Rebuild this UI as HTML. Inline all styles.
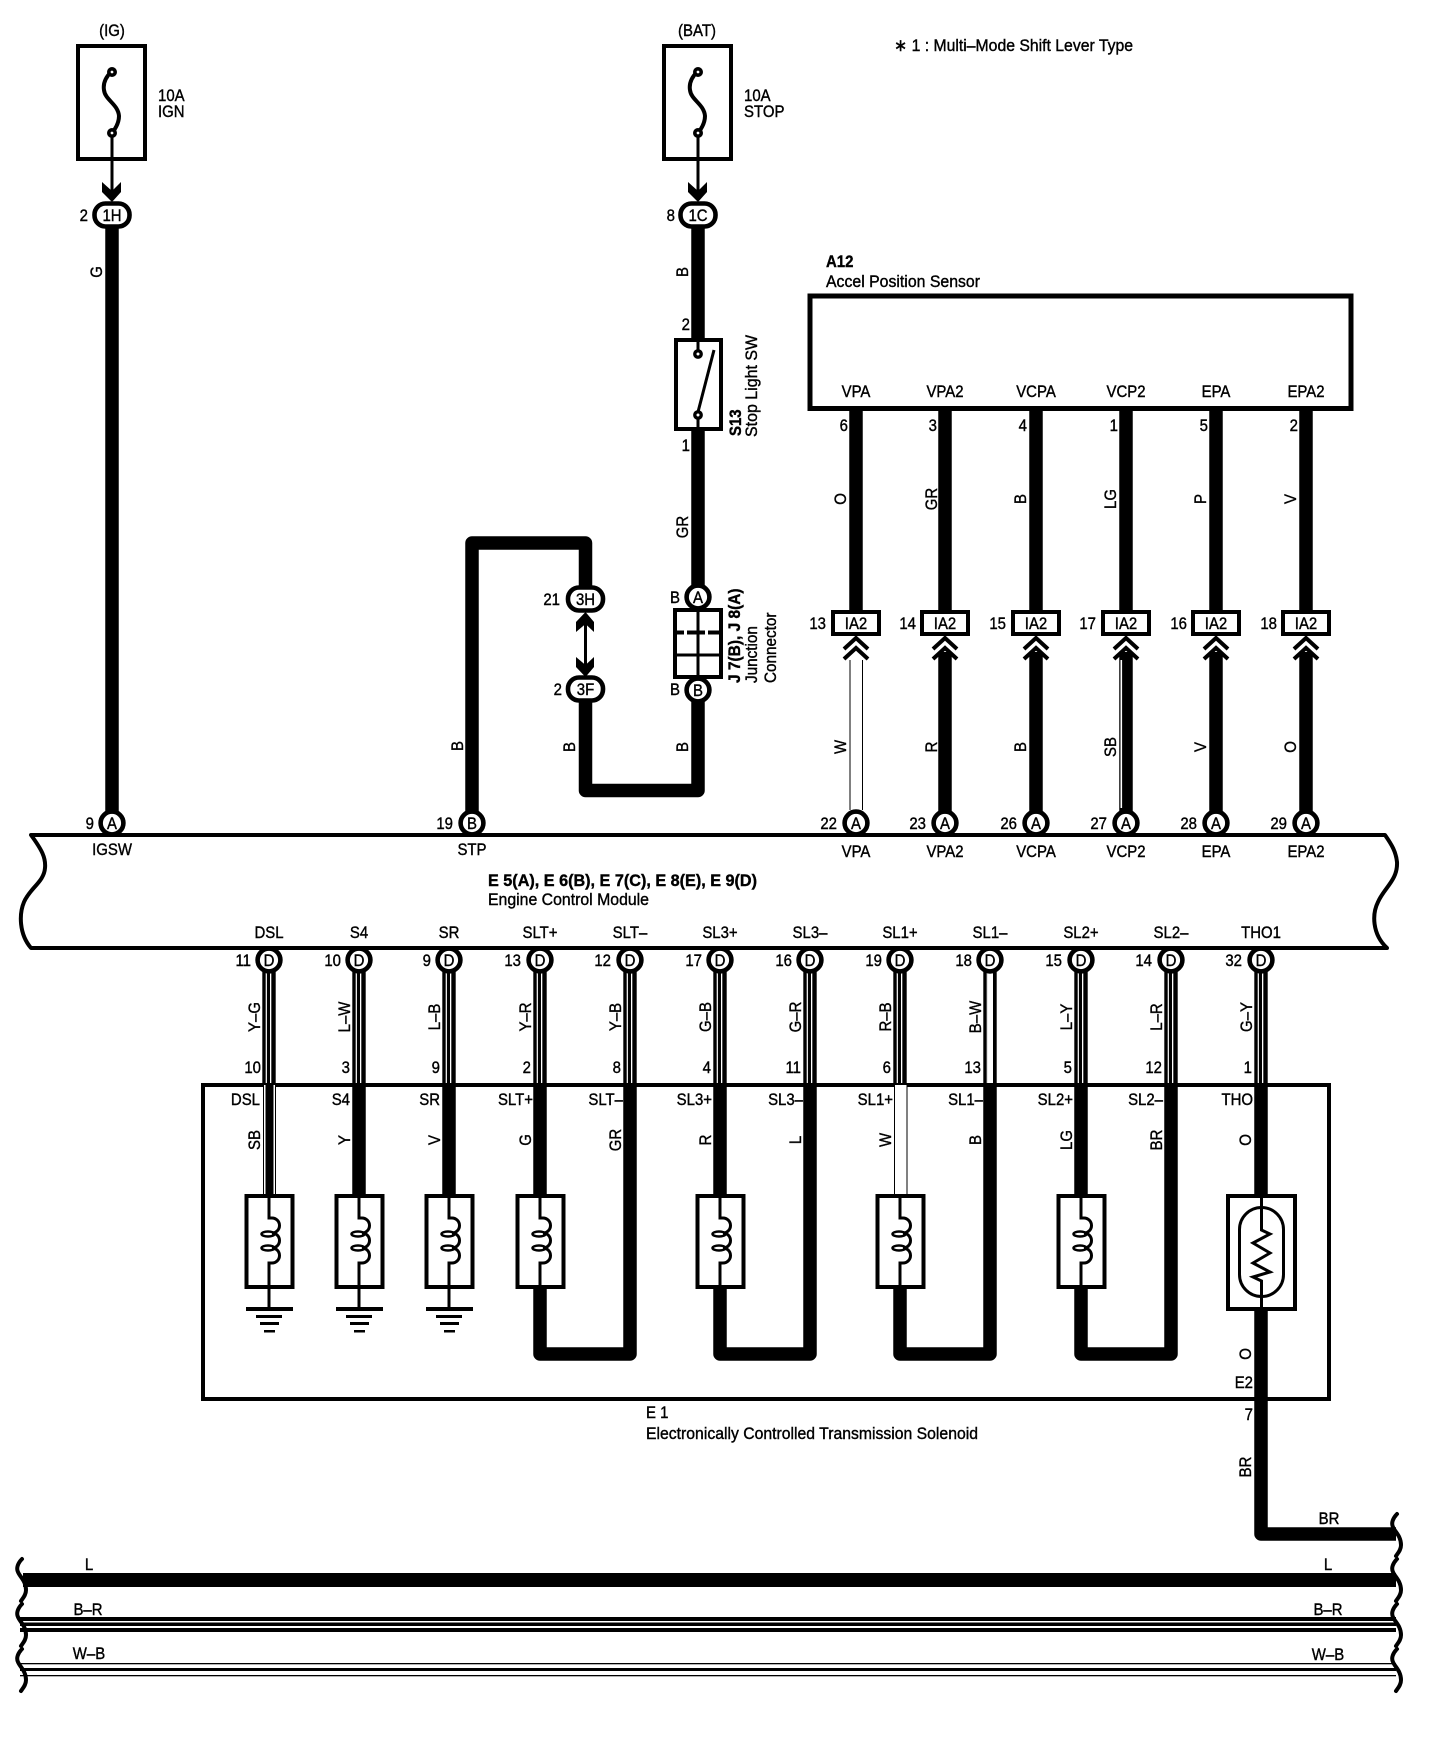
<!DOCTYPE html>
<html><head><meta charset="utf-8"><title>Wiring diagram</title>
<style>
html,body{margin:0;padding:0;background:#fff}
svg{display:block}
text{font-family:"Liberation Sans",sans-serif;font-size:17px;fill:#000;stroke:#000;stroke-width:.4}
.m{text-anchor:middle}.e{text-anchor:end}.b{font-weight:bold}
.w{fill:none;stroke:#000;stroke-width:13.5;stroke-linejoin:round}
</style></head><body>
<svg xmlns="http://www.w3.org/2000/svg" width="1440" height="1754" viewBox="0 0 1440 1754">
<defs>
<g id="c"><circle r="11.4" fill="#fff" stroke="#000" stroke-width="4.6"/></g>
<g id="o"><rect x="-17.5" y="-11.5" width="35" height="23" rx="11" fill="#fff" stroke="#000" stroke-width="4.6"/></g>
<g id="ia"><path d="M0,410V610" class="w"/><rect x="-23" y="612" width="46" height="22" fill="#fff" stroke="#000" stroke-width="4"/><path d="M-12,649L0,638L12,649M-12,659L0,648L12,659" fill="none" stroke="#000" stroke-width="4"/></g>
<g id="t"><rect x="-6.7" y="970" width="13.4" height="113"/><rect x="-3.3" y="972" width="1.2" height="111" fill="#fff"/><rect x="1" y="972" width="1.3" height="111" fill="#fff"/></g>
<g id="coil" fill="none" stroke="#000">
<rect x="-22.5" y="1196" width="46" height="91" fill="#fff" stroke-width="4"/>
<path d="M0,1194V1218H3A7.5,7.5 0 0 1 3,1233A7.5,7.5 0 0 1 3,1248A7.5,7.5 0 0 1 3,1263H0V1289" stroke-width="3"/>
<ellipse cx="-1" cy="1234" rx="6.5" ry="2.5" stroke-width="2.5"/><ellipse cx="-1" cy="1248" rx="6.5" ry="2.5" stroke-width="2.5"/>
</g>
<g id="gnd"><rect x="-1.5" y="1289" width="3" height="20"/><rect x="-23" y="1307" width="47" height="4"/><rect x="-13" y="1315" width="26" height="3"/><rect x="-9" y="1322" width="19" height="3"/><rect x="-5" y="1330" width="11" height="2.5"/></g>
<g id="fuse"><rect x="-34" y="46" width="67" height="113" fill="#fff" stroke="#000" stroke-width="4"/>
<path d="M-1,72C-7,78 -9,84 -8,90C-7,100 6,104 7,116C7,122 4,128 0,133" fill="none" stroke="#000" stroke-width="4"/>
<circle cy="72" r="3.2" fill="#fff" stroke="#000" stroke-width="3.6"/><circle cy="133" r="3.2" fill="#fff" stroke="#000" stroke-width="3.6"/>
<rect x="-1.5" y="137" width="3" height="55"/><path d="M-10,182L0,191L9,182V192L0,202L-10,192Z"/></g>
<path id="wv" d="M22,1C18,5 16,10 18,14C20,19 26,23 26,32C26,37 23,40 21,43" fill="none" stroke="#000" stroke-width="4" stroke-linecap="round"/>
</defs>

<!-- fuses -->
<use href="#fuse" x="112"/><use href="#fuse" x="698"/>
<text class="m" transform="translate(112,36)scale(.88,1)">(IG)</text>
<text class="m" transform="translate(697,36)scale(.88,1)">(BAT)</text>
<text transform="translate(158,101)scale(.88,1)">10A</text>
<text transform="translate(158,117)scale(.88,1)">IGN</text>
<text transform="translate(744,101)scale(.88,1)">10A</text>
<text transform="translate(744,117)scale(.88,1)">STOP</text>
<text x="894" y="51" textLength="239" lengthAdjust="spacingAndGlyphs" font-size="16">∗ 1 : Multi–Mode Shift Lever Type</text>

<!-- main wires -->
<path class="w" d="M112,225V812"/>
<path class="w" d="M698,225V338M698,431V597"/>
<path class="w" d="M472,812V543H585.5V590"/>
<path class="w" d="M585.5,700V790.5H698V700"/>

<use href="#o" x="112" y="215"/><text class="m" transform="translate(112,221)scale(.88,1)">1H</text>
<text class="e" transform="translate(88,221)scale(.88,1)">2</text>
<use href="#o" x="698" y="215"/><text class="m" transform="translate(698,221)scale(.88,1)">1C</text>
<text class="e" transform="translate(675,221)scale(.88,1)">8</text>
<text class="m" transform="translate(102,272)rotate(-90)scale(.88,1)">G</text>
<text class="m" transform="translate(688,272)rotate(-90)scale(.88,1)">B</text>
<text class="e" transform="translate(690,330)scale(.88,1)">2</text>
<text class="e" transform="translate(690,451)scale(.88,1)">1</text>
<text class="m" transform="translate(688,527)rotate(-90)scale(.88,1)">GR</text>

<!-- stop light switch -->
<rect x="676" y="340" width="45" height="89" fill="#fff" stroke="#000" stroke-width="4"/>
<path d="M698,338V350M698,419V431M698,412L714,350" fill="none" stroke="#000" stroke-width="3"/>
<circle cx="698" cy="354" r="3.2" fill="#fff" stroke="#000" stroke-width="3.4"/><circle cx="698" cy="415" r="3.2" fill="#fff" stroke="#000" stroke-width="3.4"/>
<text class="b" transform="translate(741,436)rotate(-90)scale(.88,1)">S13</text>
<text transform="translate(757,437)rotate(-90)scale(.94,1)">Stop Light SW</text>

<!-- junction -->
<rect x="675" y="610" width="46" height="67" fill="#fff" stroke="#000" stroke-width="4"/>
<path d="M698,610V677M675,655H721" fill="none" stroke="#000" stroke-width="3"/>
<path d="M675,632.5H721" fill="none" stroke="#000" stroke-width="4" stroke-dasharray="9 3 18 3 14"/>
<use href="#c" x="698" y="597"/><text class="m" transform="translate(698,603)scale(.88,1)">A</text>
<use href="#c" x="698" y="690"/><text class="m" transform="translate(698,696)scale(.88,1)">B</text>
<text class="e" transform="translate(680,603)scale(.88,1)">B</text>
<text class="e" transform="translate(680,695)scale(.88,1)">B</text>
<text class="b" transform="translate(740,683)rotate(-90)scale(.91,1)">J 7(B), J 8(A)</text>
<text transform="translate(757,683)rotate(-90)scale(.9,1)">Junction</text>
<text transform="translate(776,683)rotate(-90)scale(.9,1)">Connector</text>

<!-- 3H 3F -->
<rect x="584" y="620" width="3" height="48"/>
<path d="M585.5,612L594,622V632L585.5,624L576,632V622Z"/>
<path d="M585.5,677L594,667V657L585.5,665L576,657V667Z"/>
<use href="#o" x="585.5" y="599"/><text class="m" transform="translate(585.5,605)scale(.88,1)">3H</text>
<use href="#o" x="585.5" y="689"/><text class="m" transform="translate(585.5,695)scale(.88,1)">3F</text>
<text class="e" transform="translate(560,605)scale(.88,1)">21</text>
<text class="e" transform="translate(562,695)scale(.88,1)">2</text>
<text class="m" transform="translate(463,746)rotate(-90)scale(.88,1)">B</text>
<text class="m" transform="translate(575,747)rotate(-90)scale(.88,1)">B</text>
<text class="m" transform="translate(688,747)rotate(-90)scale(.88,1)">B</text>

<!-- A12 -->
<text class="b" transform="translate(826,267)scale(.88,1)">A12</text>
<text x="826" y="287" textLength="154" lengthAdjust="spacingAndGlyphs">Accel Position Sensor</text>
<rect x="810" y="296" width="541" height="112.5" fill="#fff" stroke="#000" stroke-width="5"/>
<text class="m" transform="translate(856,397)scale(.88,1)">VPA</text>
<text class="m" transform="translate(945,397)scale(.88,1)">VPA2</text>
<text class="m" transform="translate(1036,397)scale(.88,1)">VCPA</text>
<text class="m" transform="translate(1126,397)scale(.88,1)">VCP2</text>
<text class="m" transform="translate(1216,397)scale(.88,1)">EPA</text>
<text class="m" transform="translate(1306,397)scale(.88,1)">EPA2</text>

<use href="#ia" x="856"/><use href="#ia" x="945"/><use href="#ia" x="1036"/><use href="#ia" x="1126"/><use href="#ia" x="1216"/><use href="#ia" x="1306"/>
<!-- lower IA2 wires -->
<rect x="849.5" y="660" width="13.5" height="150"/><rect x="850.5" y="660" width="11.5" height="150" fill="#fff"/>
<path class="w" d="M945,652V812M1036,652V812M1126,652V812M1216,652V812M1306,652V812"/>
<rect x="1120.5" y="660" width="1.6" height="148" fill="#fff"/>

<text class="e" transform="translate(848,431)scale(.88,1)">6</text>
<text class="e" transform="translate(937,431)scale(.88,1)">3</text>
<text class="e" transform="translate(1027,431)scale(.88,1)">4</text>
<text class="e" transform="translate(1118,431)scale(.88,1)">1</text>
<text class="e" transform="translate(1208,431)scale(.88,1)">5</text>
<text class="e" transform="translate(1298,431)scale(.88,1)">2</text>
<text class="m" transform="translate(846,499)rotate(-90)scale(.88,1)">O</text>
<text class="m" transform="translate(937,499)rotate(-90)scale(.88,1)">GR</text>
<text class="m" transform="translate(1026,499)rotate(-90)scale(.88,1)">B</text>
<text class="m" transform="translate(1116,499)rotate(-90)scale(.88,1)">LG</text>
<text class="m" transform="translate(1206,499)rotate(-90)scale(.88,1)">P</text>
<text class="m" transform="translate(1296,499)rotate(-90)scale(.88,1)">V</text>
<text class="m" transform="translate(856,629)scale(.88,1)">IA2</text>
<text class="m" transform="translate(945,629)scale(.88,1)">IA2</text>
<text class="m" transform="translate(1036,629)scale(.88,1)">IA2</text>
<text class="m" transform="translate(1126,629)scale(.88,1)">IA2</text>
<text class="m" transform="translate(1216,629)scale(.88,1)">IA2</text>
<text class="m" transform="translate(1306,629)scale(.88,1)">IA2</text>
<text class="e" transform="translate(826,629)scale(.88,1)">13</text>
<text class="e" transform="translate(916,629)scale(.88,1)">14</text>
<text class="e" transform="translate(1006,629)scale(.88,1)">15</text>
<text class="e" transform="translate(1096,629)scale(.88,1)">17</text>
<text class="e" transform="translate(1187,629)scale(.88,1)">16</text>
<text class="e" transform="translate(1277,629)scale(.88,1)">18</text>
<text class="m" transform="translate(846,747)rotate(-90)scale(.88,1)">W</text>
<text class="m" transform="translate(937,747)rotate(-90)scale(.88,1)">R</text>
<text class="m" transform="translate(1026,747)rotate(-90)scale(.88,1)">B</text>
<text class="m" transform="translate(1116,747)rotate(-90)scale(.88,1)">SB</text>
<text class="m" transform="translate(1206,747)rotate(-90)scale(.88,1)">V</text>
<text class="m" transform="translate(1296,747)rotate(-90)scale(.88,1)">O</text>

<!-- ECM -->
<path d="M31,835C42,850 46,858 45,868C44,882 30,888 24,902C19,914 19,934 31,948H1387C1372,934 1372,914 1378,902C1384,888 1398,880 1397,862C1396,852 1392,845 1385,835Z" fill="#fff" stroke="#000" stroke-width="4" stroke-linejoin="round"/>

<use href="#c" x="112" y="823"/><use href="#c" x="472" y="823"/><use href="#c" x="856" y="823"/><use href="#c" x="945" y="823"/><use href="#c" x="1036" y="823"/><use href="#c" x="1126" y="823"/><use href="#c" x="1216" y="823"/><use href="#c" x="1306" y="823"/>
<rect x="90" y="833" width="1240" height="4"/>
<text class="m" transform="translate(112,829)scale(.88,1)">A</text>
<text class="m" transform="translate(472,829)scale(.88,1)">B</text>
<text class="m" transform="translate(856,829)scale(.88,1)">A</text>
<text class="m" transform="translate(945,829)scale(.88,1)">A</text>
<text class="m" transform="translate(1036,829)scale(.88,1)">A</text>
<text class="m" transform="translate(1126,829)scale(.88,1)">A</text>
<text class="m" transform="translate(1216,829)scale(.88,1)">A</text>
<text class="m" transform="translate(1306,829)scale(.88,1)">A</text>
<text class="e" transform="translate(94,829)scale(.88,1)">9</text>
<text class="e" transform="translate(453,829)scale(.88,1)">19</text>
<text class="e" transform="translate(837,829)scale(.88,1)">22</text>
<text class="e" transform="translate(926,829)scale(.88,1)">23</text>
<text class="e" transform="translate(1017,829)scale(.88,1)">26</text>
<text class="e" transform="translate(1107,829)scale(.88,1)">27</text>
<text class="e" transform="translate(1197,829)scale(.88,1)">28</text>
<text class="e" transform="translate(1287,829)scale(.88,1)">29</text>
<text class="m" transform="translate(112,855)scale(.88,1)">IGSW</text>
<text class="m" transform="translate(472,855)scale(.88,1)">STP</text>
<text class="m" transform="translate(856,857)scale(.88,1)">VPA</text>
<text class="m" transform="translate(945,857)scale(.88,1)">VPA2</text>
<text class="m" transform="translate(1036,857)scale(.88,1)">VCPA</text>
<text class="m" transform="translate(1126,857)scale(.88,1)">VCP2</text>
<text class="m" transform="translate(1216,857)scale(.88,1)">EPA</text>
<text class="m" transform="translate(1306,857)scale(.88,1)">EPA2</text>
<text class="b" x="488" y="886" textLength="269" lengthAdjust="spacingAndGlyphs">E 5(A), E 6(B), E 7(C), E 8(E), E 9(D)</text>
<text x="488" y="905" textLength="161" lengthAdjust="spacingAndGlyphs">Engine Control Module</text>

<!-- ECM bottom names -->
<text class="m" transform="translate(269,938)scale(.88,1)">DSL</text>
<text class="m" transform="translate(359,938)scale(.88,1)">S4</text>
<text class="m" transform="translate(449,938)scale(.88,1)">SR</text>
<text class="m" transform="translate(540,938)scale(.88,1)">SLT+</text>
<text class="m" transform="translate(630,938)scale(.88,1)">SLT–</text>
<text class="m" transform="translate(720,938)scale(.88,1)">SL3+</text>
<text class="m" transform="translate(810,938)scale(.88,1)">SL3–</text>
<text class="m" transform="translate(900,938)scale(.88,1)">SL1+</text>
<text class="m" transform="translate(990,938)scale(.88,1)">SL1–</text>
<text class="m" transform="translate(1081,938)scale(.88,1)">SL2+</text>
<text class="m" transform="translate(1171,938)scale(.88,1)">SL2–</text>
<text class="m" transform="translate(1261,938)scale(.88,1)">THO1</text>

<!-- E1 box -->
<rect x="203" y="1085" width="1126" height="314" fill="#fff" stroke="#000" stroke-width="4"/>

<!-- triple wires -->
<use href="#t" x="269"/><use href="#t" x="359"/><use href="#t" x="449"/><use href="#t" x="540"/><use href="#t" x="630"/><use href="#t" x="720"/><use href="#t" x="810"/><use href="#t" x="900"/><use href="#t" x="990"/><use href="#t" x="1081"/><use href="#t" x="1171"/><use href="#t" x="1261"/>
<rect x="988" y="972" width="5" height="111" fill="#fff"/>

<g>
<use href="#c" x="269" y="960"/><use href="#c" x="359" y="960"/><use href="#c" x="449" y="960"/><use href="#c" x="540" y="960"/><use href="#c" x="630" y="960"/><use href="#c" x="720" y="960"/><use href="#c" x="810" y="960"/><use href="#c" x="900" y="960"/><use href="#c" x="990" y="960"/><use href="#c" x="1081" y="960"/><use href="#c" x="1171" y="960"/><use href="#c" x="1261" y="960"/>
</g>
<rect x="240" y="946" width="1050" height="4"/>
<text class="m" transform="translate(269,966)scale(.88,1)">D</text>
<text class="m" transform="translate(359,966)scale(.88,1)">D</text>
<text class="m" transform="translate(449,966)scale(.88,1)">D</text>
<text class="m" transform="translate(540,966)scale(.88,1)">D</text>
<text class="m" transform="translate(630,966)scale(.88,1)">D</text>
<text class="m" transform="translate(720,966)scale(.88,1)">D</text>
<text class="m" transform="translate(810,966)scale(.88,1)">D</text>
<text class="m" transform="translate(900,966)scale(.88,1)">D</text>
<text class="m" transform="translate(990,966)scale(.88,1)">D</text>
<text class="m" transform="translate(1081,966)scale(.88,1)">D</text>
<text class="m" transform="translate(1171,966)scale(.88,1)">D</text>
<text class="m" transform="translate(1261,966)scale(.88,1)">D</text>
<text class="e" transform="translate(251,966)scale(.88,1)">11</text>
<text class="e" transform="translate(341,966)scale(.88,1)">10</text>
<text class="e" transform="translate(431,966)scale(.88,1)">9</text>
<text class="e" transform="translate(521,966)scale(.88,1)">13</text>
<text class="e" transform="translate(611,966)scale(.88,1)">12</text>
<text class="e" transform="translate(702,966)scale(.88,1)">17</text>
<text class="e" transform="translate(792,966)scale(.88,1)">16</text>
<text class="e" transform="translate(882,966)scale(.88,1)">19</text>
<text class="e" transform="translate(972,966)scale(.88,1)">18</text>
<text class="e" transform="translate(1062,966)scale(.88,1)">15</text>
<text class="e" transform="translate(1152,966)scale(.88,1)">14</text>
<text class="e" transform="translate(1242,966)scale(.88,1)">32</text>

<text class="m" transform="translate(260,1017)rotate(-90)scale(.88,1)">Y–G</text>
<text class="m" transform="translate(350,1017)rotate(-90)scale(.88,1)">L–W</text>
<text class="m" transform="translate(440,1017)rotate(-90)scale(.88,1)">L–B</text>
<text class="m" transform="translate(531,1017)rotate(-90)scale(.88,1)">Y–R</text>
<text class="m" transform="translate(621,1017)rotate(-90)scale(.88,1)">Y–B</text>
<text class="m" transform="translate(711,1017)rotate(-90)scale(.88,1)">G–B</text>
<text class="m" transform="translate(801,1017)rotate(-90)scale(.88,1)">G–R</text>
<text class="m" transform="translate(891,1017)rotate(-90)scale(.88,1)">R–B</text>
<text class="m" transform="translate(981,1017)rotate(-90)scale(.88,1)">B–W</text>
<text class="m" transform="translate(1072,1017)rotate(-90)scale(.88,1)">L–Y</text>
<text class="m" transform="translate(1162,1017)rotate(-90)scale(.88,1)">L–R</text>
<text class="m" transform="translate(1252,1017)rotate(-90)scale(.88,1)">G–Y</text>

<text class="e" transform="translate(261,1073)scale(.88,1)">10</text>
<text class="e" transform="translate(350,1073)scale(.88,1)">3</text>
<text class="e" transform="translate(440,1073)scale(.88,1)">9</text>
<text class="e" transform="translate(531,1073)scale(.88,1)">2</text>
<text class="e" transform="translate(621,1073)scale(.88,1)">8</text>
<text class="e" transform="translate(711,1073)scale(.88,1)">4</text>
<text class="e" transform="translate(801,1073)scale(.88,1)">11</text>
<text class="e" transform="translate(891,1073)scale(.88,1)">6</text>
<text class="e" transform="translate(981,1073)scale(.88,1)">13</text>
<text class="e" transform="translate(1072,1073)scale(.88,1)">5</text>
<text class="e" transform="translate(1162,1073)scale(.88,1)">12</text>
<text class="e" transform="translate(1252,1073)scale(.88,1)">1</text>

<!-- E1 wires -->
<rect x="263" y="1085" width="13" height="109"/><rect x="264" y="1085" width="11" height="109" fill="#fff"/><rect x="265.5" y="1085" width="8" height="109"/>
<rect x="894" y="1085" width="13.5" height="109"/><rect x="895" y="1085" width="11.5" height="109" fill="#fff"/>
<path class="w" d="M359,1083V1196M449,1083V1196M540,1083V1196M720,1083V1196M1081,1083V1196M1261,1083V1196"/>
<path class="w" d="M540,1287V1354H630V1083"/>
<path class="w" d="M720,1287V1354H810V1083"/>
<path class="w" d="M900,1287V1354H990V1083"/>
<path class="w" d="M1081,1287V1354H1171V1083"/>
<path class="w" d="M1261,1309V1534H1396"/>

<use href="#coil" x="269"/><use href="#coil" x="359"/><use href="#coil" x="449"/><use href="#coil" x="540"/><use href="#coil" x="720"/><use href="#coil" x="900"/><use href="#coil" x="1081"/>
<use href="#gnd" x="269"/><use href="#gnd" x="359"/><use href="#gnd" x="449"/>

<!-- thermistor -->
<rect x="1228" y="1196" width="67" height="113" fill="#fff" stroke="#000" stroke-width="4"/>
<rect x="1239.5" y="1207.5" width="44" height="89" rx="22" fill="none" stroke="#000" stroke-width="3"/>
<path d="M1261.5,1196V1230L1270,1234L1253,1243L1270,1253L1253,1263L1270,1272L1253,1277L1261.5,1281V1309" fill="none" stroke="#000" stroke-width="3"/>

<text class="e" transform="translate(260,1105)scale(.88,1)">DSL</text>
<text class="e" transform="translate(350,1105)scale(.88,1)">S4</text>
<text class="e" transform="translate(440,1105)scale(.88,1)">SR</text>
<text class="e" transform="translate(533,1105)scale(.88,1)">SLT+</text>
<text class="e" transform="translate(623,1105)scale(.88,1)">SLT–</text>
<text class="e" transform="translate(712,1105)scale(.88,1)">SL3+</text>
<text class="e" transform="translate(803,1105)scale(.88,1)">SL3–</text>
<text class="e" transform="translate(893,1105)scale(.88,1)">SL1+</text>
<text class="e" transform="translate(983,1105)scale(.88,1)">SL1–</text>
<text class="e" transform="translate(1073,1105)scale(.88,1)">SL2+</text>
<text class="e" transform="translate(1163,1105)scale(.88,1)">SL2–</text>
<text class="e" transform="translate(1253,1105)scale(.88,1)">THO</text>
<text class="m" transform="translate(260,1140)rotate(-90)scale(.88,1)">SB</text>
<text class="m" transform="translate(350,1140)rotate(-90)scale(.88,1)">Y</text>
<text class="m" transform="translate(440,1140)rotate(-90)scale(.88,1)">V</text>
<text class="m" transform="translate(531,1140)rotate(-90)scale(.88,1)">G</text>
<text class="m" transform="translate(621,1140)rotate(-90)scale(.88,1)">GR</text>
<text class="m" transform="translate(711,1140)rotate(-90)scale(.88,1)">R</text>
<text class="m" transform="translate(801,1140)rotate(-90)scale(.88,1)">L</text>
<text class="m" transform="translate(891,1140)rotate(-90)scale(.88,1)">W</text>
<text class="m" transform="translate(981,1140)rotate(-90)scale(.88,1)">B</text>
<text class="m" transform="translate(1072,1140)rotate(-90)scale(.88,1)">LG</text>
<text class="m" transform="translate(1162,1140)rotate(-90)scale(.88,1)">BR</text>
<text class="m" transform="translate(1251,1140)rotate(-90)scale(.88,1)">O</text>
<text class="m" transform="translate(1251,1354)rotate(-90)scale(.88,1)">O</text>
<text class="e" transform="translate(1253,1388)scale(.88,1)">E2</text>
<text class="e" transform="translate(1253,1420)scale(.88,1)">7</text>
<text class="m" transform="translate(1251,1467)rotate(-90)scale(.88,1)">BR</text>
<text transform="translate(646,1418)scale(.88,1)">E 1</text>
<text x="646" y="1439" textLength="332" lengthAdjust="spacingAndGlyphs">Electronically Controlled Transmission Solenoid</text>

<!-- bus lines -->
<rect x="23" y="1573" width="1373" height="14"/>
<rect x="20" y="1617" width="1376" height="4"/><rect x="20" y="1622.5" width="1376" height="3.5"/><rect x="20" y="1628" width="1376" height="4"/>
<rect x="20" y="1663" width="1376" height="1.3"/><rect x="20" y="1668" width="1376" height="3"/><rect x="20" y="1675" width="1376" height="1.3"/>

<use href="#wv" y="1558"/><use href="#wv" y="1603"/><use href="#wv" y="1648"/>
<use href="#wv" x="1375" y="1513"/><use href="#wv" x="1375" y="1558"/><use href="#wv" x="1375" y="1603"/><use href="#wv" x="1375" y="1648"/>

<text class="m" transform="translate(1329,1524)scale(.88,1)">BR</text>
<text class="m" transform="translate(1328,1570)scale(.88,1)">L</text>
<text class="m" transform="translate(1328,1615)scale(.88,1)">B–R</text>
<text class="m" transform="translate(1328,1660)scale(.88,1)">W–B</text>
<text class="m" transform="translate(89,1570)scale(.88,1)">L</text>
<text class="m" transform="translate(88,1615)scale(.88,1)">B–R</text>
<text class="m" transform="translate(89,1659)scale(.88,1)">W–B</text>
</svg>
</body></html>
